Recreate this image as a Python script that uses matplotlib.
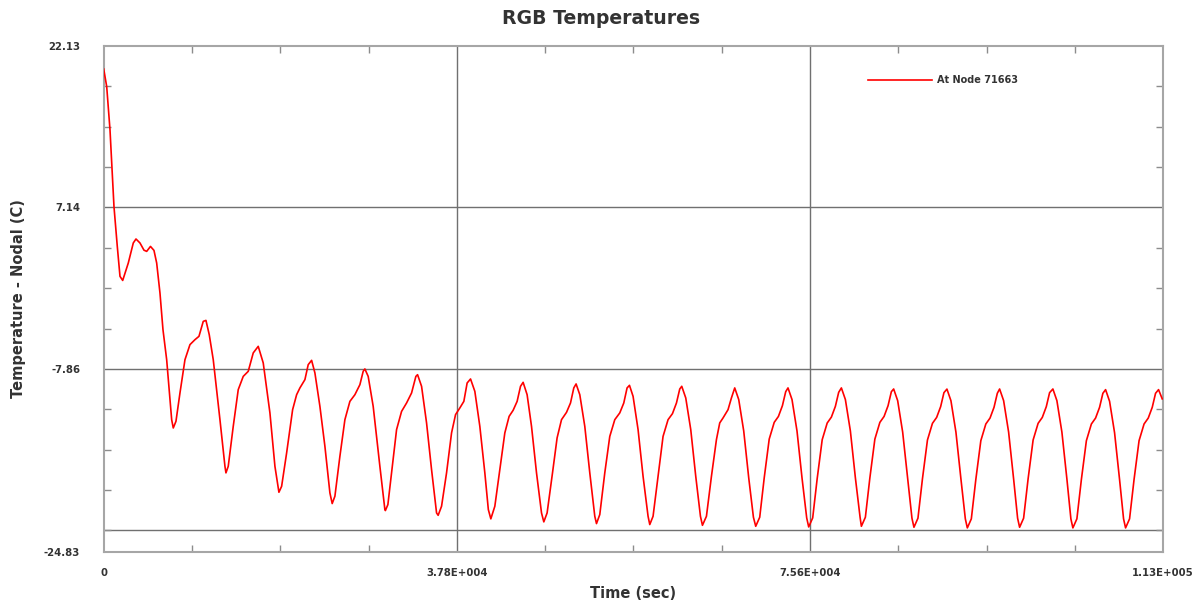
import matplotlib.pyplot as plt
import numpy as np

# values
time_s = [0, 321, 674, 1102, 1455, 1744, 2033, 2632, 3167, 3456, 3884, 4312, 4601, 5008, 5382, 5671,
          6024, 6345, 6741, 7094, 7276, 7447, 7736, 8164, 8699, 9234, 9769, 10197, 10657, 10946, 11299,
          11727, 12444, 12979, 13086, 13332, 13867, 14402, 14937, 15472, 16007, 16542, 17077, 17794,
          18329, 18757, 19046, 19581, 20223, 20651, 21004, 21539, 21892, 22256, 22609, 23144, 23679,
          24214, 24460, 24749, 25284, 25819, 26354, 26889, 27424, 27777, 27959, 28312, 28847, 29564,
          30099, 30153, 30420, 30816, 31351, 31886, 32421, 32956, 33416, 33598, 34026, 34561, 35096,
          35631, 35802, 36166, 36701, 37236, 37664, 38124, 38552, 38905, 39269, 39729, 40264, 40799,
          41174, 41441, 41869, 42404, 42939, 43399, 43827, 44255, 44619, 44897, 45325, 45796, 46331,
          46866, 47112, 47465, 48043, 48535, 49006, 49541, 49969, 50322, 50568, 50964, 51499, 52034,
          52569, 52751, 53104, 53639, 54174, 54709, 55244, 55672, 56025, 56282, 56667, 57202, 57737,
          58272, 58454, 58807, 59342, 59877, 60412, 60883, 61311, 61664, 61878, 62306, 62841, 63376,
          63879, 64093, 64521, 65056, 65591, 65944, 66297, 66832, 67196, 67549, 67977, 68512, 69047,
          69550, 69796, 70224, 70706, 71241, 71776, 72225, 72653, 73006, 73252, 73680, 74215, 74750,
          75253, 75467, 75895, 76377, 76912, 77447, 77896, 78324, 78677, 78966, 79394, 79929, 80464,
          80967, 81106, 81534, 82016, 82551, 83086, 83535, 83963, 84316, 84562, 84990, 85525, 86060,
          86520, 86734, 87162, 87644, 88179, 88714, 89163, 89591, 89944, 90265, 90693, 91228, 91763,
          92234, 92448, 92876, 93358, 93893, 94428, 94877, 95305, 95658, 95904, 96332, 96867, 97402,
          97830, 98044, 98472, 98954, 99489, 100024, 100473, 100901, 101254, 101607, 102035, 102570,
          103105, 103533, 103747, 104175, 104657, 105192, 105727, 106176, 106604, 106957, 107248,
          107674, 108209, 108744, 109172, 109386, 109814, 110296, 110831, 111366, 111815, 112243,
          112596, 112917, 113313]
temp_c = [20.0, 18.37, 14.35, 7.2, 3.52, 0.74, 0.36, 1.98, 3.84, 4.21, 3.84, 3.17, 3.06, 3.52, 3.15, 1.98,
          -0.81, -4.21, -7.0, -10.71, -12.57, -13.34, -12.72, -10.09, -7.0, -5.6, -5.14, -4.83, -3.44, -3.35,
          -4.68, -7.0, -12.57, -16.9, -17.51, -16.9, -13.19, -9.78, -8.55, -8.08, -6.37, -5.76, -7.3,
          -11.94, -16.9, -19.31, -18.76, -15.66, -11.64, -10.25, -9.62, -8.85, -7.46, -7.06, -8.23,
          -11.33, -15.04, -19.37, -20.36, -19.68, -15.97, -12.57, -10.87, -10.25, -9.32, -8.08, -7.86,
          -8.55, -11.33, -16.9, -20.92, -21.01, -20.46, -17.51, -13.49, -11.8, -11.02, -10.09, -8.55,
          -8.39, -9.47, -12.87, -17.21, -21.23, -21.45, -20.61, -17.51, -13.8, -12.1, -11.48, -10.87,
          -9.16, -8.79, -9.94, -13.19, -17.51, -20.92, -21.78, -20.61, -17.21, -13.8, -12.26, -11.7,
          -10.87, -9.47, -9.1, -10.25, -13.19, -17.51, -21.23, -22.06, -21.23, -17.51, -14.26, -12.57,
          -11.89, -11.02, -9.62, -9.25, -10.25, -13.19, -17.51, -21.54, -22.22, -21.38, -17.51, -14.12,
          -12.57, -11.94, -11.02, -9.62, -9.38, -10.4, -13.49, -17.83, -21.54, -22.31, -21.54, -17.83,
          -14.12, -12.57, -12.01, -11.02, -9.72, -9.47, -10.55, -13.49, -17.83, -21.54, -22.38, -21.54,
          -17.83, -14.42, -12.87, -12.41, -11.64, -10.55, -9.62, -10.7, -13.62, -17.97, -21.63, -22.47,
          -21.63, -17.97, -14.37, -12.82, -12.27, -11.27, -9.97, -9.62, -10.7, -13.62, -17.97, -21.69,
          -22.53, -21.69, -18.03, -14.43, -12.88, -12.33, -11.33, -10.03, -9.62, -10.7, -13.62, -17.97,
          -21.63, -22.47, -21.63, -17.97, -14.37, -12.82, -12.27, -11.27, -9.97, -9.72, -10.8, -13.72,
          -18.07, -21.72, -22.56, -21.72, -18.06, -14.46, -12.91, -12.36, -11.36, -10.06, -9.73, -10.81,
          -13.73, -18.08, -21.78, -22.62, -21.78, -18.12, -14.52, -12.97, -12.42, -11.42, -10.12, -9.72,
          -10.8, -13.72, -18.07, -21.72, -22.56, -21.72, -18.06, -14.46, -12.91, -12.36, -11.36, -10.06,
          -9.72, -10.8, -13.72, -18.07, -21.78, -22.62, -21.78, -18.12, -14.52, -12.97, -12.42, -11.42,
          -10.12, -9.78, -10.86, -13.78, -18.13, -21.78, -22.62, -21.78, -18.12, -14.52, -12.97, -12.42,
          -11.42, -10.12, -9.78, -10.64]

x_ticks = [0, 37800, 75600, 113400]
x_labels = ['0', '3.78E+004', '7.56E+004', '1.13E+005']
y_ticks = [22.13, 7.14, -7.86, -24.83]
y_labels = ['22.13', '7.14', '-7.86', '-24.83']
y_grid = [7.14, -7.86, -22.86]
x_grid = [37800, 75600]

plt.rcParams['font.family'] = 'DejaVu Sans'
fig = plt.figure(figsize=(12.03, 6.08), dpi=100)
ax = fig.add_axes([0.0862, 0.0926, 0.8806, 0.8317])

ax.plot(time_s, temp_c, color='#ff0000', linewidth=1.2, label='At Node 71663', zorder=3)

ax.set_xlim(0, 113400)
ax.set_ylim(-24.83, 22.13)

for g in y_grid:
    ax.axhline(g, color='#707070', linewidth=1.0, zorder=1)
for g in x_grid:
    ax.axvline(g, color='#707070', linewidth=1.0, zorder=1)

ax.set_xticks(x_ticks)
ax.set_xticklabels(x_labels, fontsize=7.3, fontweight='bold', color='#333333')
ax.set_yticks(y_ticks)
ax.set_yticklabels(y_labels, fontsize=7.3, fontweight='bold', color='#333333')
ax.set_xticks(np.arange(9450, 113400, 9450), minor=True)
ax.set_yticks(list(np.arange(7.14 - 3.75, -24.0, -3.75)) + [10.89, 14.64, 18.39], minor=True)

ax.tick_params(axis='y', which='major', length=0, pad=17)
ax.tick_params(axis='x', which='major', length=0, pad=12)
ax.tick_params(which='minor', direction='in', length=5, width=1, color='#8c8c8c',
               top=True, right=True)

for s in ax.spines.values():
    s.set_color('#a6a6a6')
    s.set_linewidth(1.5)

fig.text(0.5, 1 - 18 / 608, 'RGB Temperatures', fontsize=13.6, fontweight='bold',
         color='#333333', ha='center', va='center')
ax.set_xlabel('Time (sec)', fontsize=10.5, fontweight='bold', color='#333333')
ax.set_ylabel('Temperature - Nodal (C)', fontsize=10.5, fontweight='bold', color='#333333')
ax.xaxis.set_label_coords(0.5, -0.0817)
ax.xaxis.label.set_va('center')
ax.yaxis.set_label_coords(-0.0804, 0.5)
ax.yaxis.label.set_va('center')

leg = ax.legend(loc='center left', bbox_to_anchor=(0.7217, 0.933), frameon=False,
                handlelength=6.6, handletextpad=0.45, borderpad=0, borderaxespad=0,
                prop={'size': 7.0, 'weight': 'bold'})
for t in leg.get_texts():
    t.set_color('#333333')

fig.savefig('out.png', dpi=100)
